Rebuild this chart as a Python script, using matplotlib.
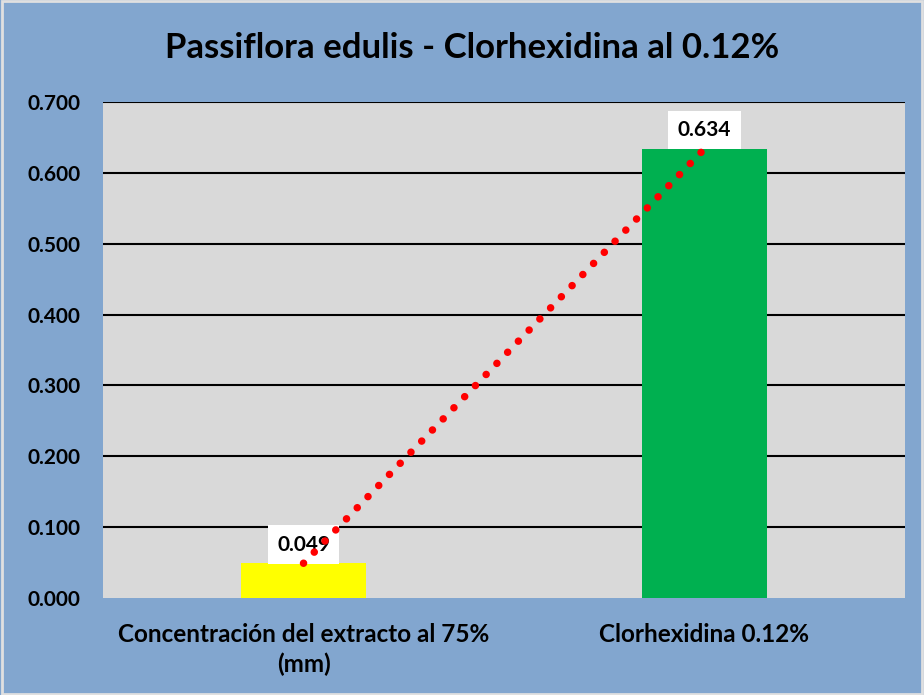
import matplotlib.pyplot as plt
from matplotlib.patches import Rectangle

categories = ["Concentración del extracto al 75%\n(mm)", "Clorhexidina 0.12%"]
values = [0.049, 0.634]
bar_colors = ["#FFFF00", "#00B050"]
yticks = [0.0, 0.1, 0.2, 0.3, 0.4, 0.5, 0.6, 0.7]
title = "Passiflora edulis - Clorhexidina al 0.12%"

plt.rcParams["font.family"] = ["Lato", "DejaVu Sans"]
plt.rcParams["font.weight"] = "bold"

fig = plt.figure(figsize=(9.24, 6.95), dpi=100)
fig.patch.set_facecolor("#82A6CF")
fig.patches.append(Rectangle((0.002, 0.002), 0.996, 0.996, transform=fig.transFigure,
                             fill=False, edgecolor="#E0E0E0", linewidth=2))

ax = fig.add_axes([0.1115, 0.1396, 0.8679, 0.7136])
ax.set_facecolor("#D9D9D9")

x = list(range(len(values)))
# gridlines above zero only (the zero line isn't drawn in the original)
for t in yticks[1:]:
    ax.axhline(t, color="black", linewidth=1.5, zorder=1)
ax.bar(x, values, width=0.314, color=bar_colors, zorder=2)

ax.plot(x, values, color="#FF0000", linewidth=5.4,
        linestyle=(0, (0.01, 2.05)), dash_capstyle="round", zorder=4)

for xi, v in zip(x, values):
    ax.annotate(f"{v:.3f}", (xi, v), xytext=(0, 13.5), textcoords="offset points",
                ha="center", va="center", fontsize=15, fontweight="bold",
                bbox=dict(boxstyle="square,pad=0.45", facecolor="white",
                          edgecolor="none"), zorder=3)

ax.set_xlim(-0.5, 1.5)
ax.set_ylim(0, 0.7)
ax.set_yticks(yticks)
ax.set_yticklabels([f"{t:.3f}" for t in yticks], fontsize=15, fontweight="bold")
ax.set_xticks(x)
ax.set_xticklabels(categories, fontsize=17.5, fontweight="bold", linespacing=1.35)
ax.tick_params(axis="both", length=0)
ax.tick_params(axis="y", pad=16)
ax.tick_params(axis="x", pad=18)
for s in ax.spines.values():
    s.set_visible(False)

fig.text(0.511, 0.931, title, ha="center", va="center", fontsize=25, fontweight="bold")

plt.savefig("out.png", dpi=100, facecolor=fig.get_facecolor())
plt.close()
